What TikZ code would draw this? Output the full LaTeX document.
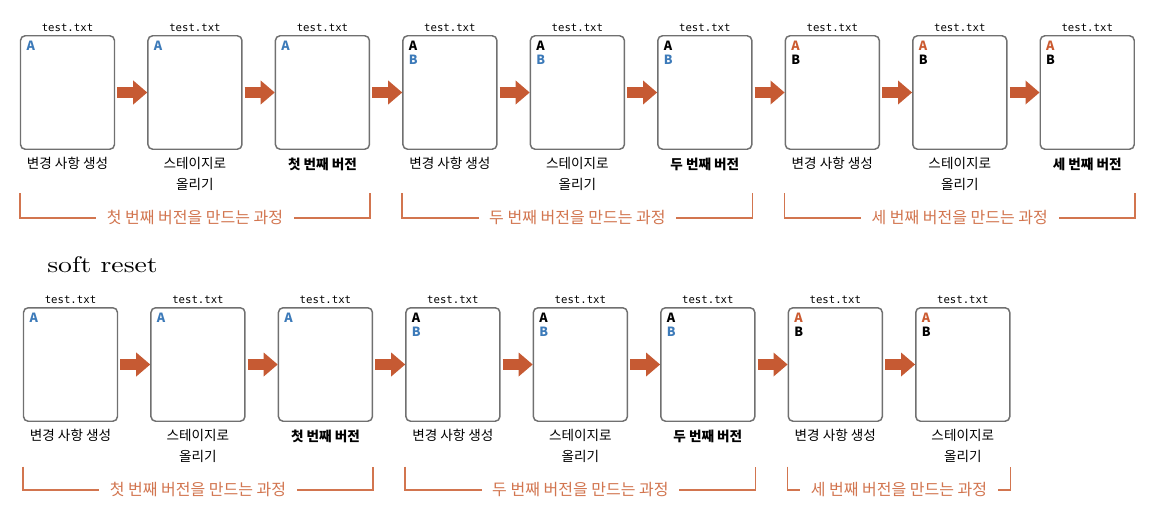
\documentclass[tikz,border=0pt]{standalone}
\usepackage{fontspec}
\usepackage{graphicx}
\newfontfamily\kr{Noto Sans CJK KR}
\newfontfamily\mono{DejaVu Sans Mono}
\usetikzlibrary{positioning, arrows.meta}

\definecolor{boxgray}{HTML}{707070}
\definecolor{flowred}{HTML}{C65A33}
\definecolor{verblue}{HTML}{3C7AB9}
\definecolor{verred}{HTML}{CB5A30}
\definecolor{brkorange}{HTML}{D2754F}

\begin{document}
\begin{tikzpicture}[
  x=0.75pt, y=-0.75pt,
  node distance=24pt,
  filebox/.style={draw=boxgray, line width=1.1pt, rounded corners=3.5pt, fill=white,
                  text width=61.5pt, inner xsep=4.5pt, inner ysep=2pt,
                  text height=9pt, text depth=72.1pt, align=left,
                  font=\kr\bfseries\fontsize{9.5}{10.7}\selectfont,
                  label={[fname]above:test.txt}},
  fname/.style={font=\mono\fontsize{8}{9}\selectfont, inner sep=0pt, label distance=2.5pt},
  boxcap/.style={font=\kr\fontsize{10.2}{15.75}\selectfont, align=center, inner sep=0pt,
                 label distance=5.5pt},
  boxcapb/.style={boxcap, font=\kr\bfseries\fontsize{10.2}{15.75}\selectfont},
  flow/.style={-{Triangle[length=10.5pt, width=18pt, line width=0pt]}, line width=8.25pt,
               draw=flowred, shorten <=1.5pt},
  brk/.style={draw=brkorange, line width=1.1pt},
  grp/.style={font=\kr\fontsize{12}{14}\selectfont, text=brkorange, fill=white,
              inner xsep=8pt, inner ysep=1pt},
]
\useasboundingbox (0,0) rectangle (1156,517);

% === First row ===
\node[filebox, label={[boxcap]below:변경 사항 생성}] (a1) at (67.5,92.5) {\textcolor{verblue}{A}};
\node[filebox, right=of a1, label={[boxcap]below:{스테이지로\\올리기}}] (a2) {\textcolor{verblue}{A}};
\node[filebox, right=of a2, label={[boxcapb]below:첫 번째 버전}] (a3) {\textcolor{verblue}{A}};
\node[filebox, right=of a3, label={[boxcap]below:변경 사항 생성}] (a4) {A\\\textcolor{verblue}{B}};
\node[filebox, right=of a4, label={[boxcap]below:{스테이지로\\올리기}}] (a5) {A\\\textcolor{verblue}{B}};
\node[filebox, right=of a5, label={[boxcapb]below:두 번째 버전}] (a6) {A\\\textcolor{verblue}{B}};
\node[filebox, right=of a6, label={[boxcap]below:변경 사항 생성}] (a7) {\textcolor{verred}{A}\\B};
\node[filebox, right=of a7, label={[boxcap]below:{스테이지로\\올리기}}] (a8) {\textcolor{verred}{A}\\B};
\node[filebox, right=of a8, label={[boxcapb]below:세 번째 버전}] (a9) {\textcolor{verred}{A}\\B};

% === Second row ===
\node[anchor=base west, inner sep=0pt] (title) at (47,272)
  {\fontsize{10}{12}\selectfont\scalebox{2.08}[1.7]{soft reset}};

\node[filebox, label={[boxcap]below:변경 사항 생성}] (b1) at (70.5,364.5) {\textcolor{verblue}{A}};
\node[filebox, right=of b1, label={[boxcap]below:{스테이지로\\올리기}}] (b2) {\textcolor{verblue}{A}};
\node[filebox, right=of b2, label={[boxcapb]below:첫 번째 버전}] (b3) {\textcolor{verblue}{A}};
\node[filebox, right=of b3, label={[boxcap]below:변경 사항 생성}] (b4) {A\\\textcolor{verblue}{B}};
\node[filebox, right=of b4, label={[boxcap]below:{스테이지로\\올리기}}] (b5) {A\\\textcolor{verblue}{B}};
\node[filebox, right=of b5, label={[boxcapb]below:두 번째 버전}] (b6) {A\\\textcolor{verblue}{B}};
\node[filebox, right=of b6, label={[boxcap]below:변경 사항 생성}] (b7) {\textcolor{verred}{A}\\B};
\node[filebox, right=of b7, label={[boxcap]below:{스테이지로\\올리기}}] (b8) {\textcolor{verred}{A}\\B};

% === Arrows ===
\draw[flow] (a1) -- (a2);
\draw[flow] (a2) -- (a3);
\draw[flow] (a3) -- (a4);
\draw[flow] (a4) -- (a5);
\draw[flow] (a5) -- (a6);
\draw[flow] (a6) -- (a7);
\draw[flow] (a7) -- (a8);
\draw[flow] (a8) -- (a9);

\draw[flow] (b1) -- (b2);
\draw[flow] (b2) -- (b3);
\draw[flow] (b3) -- (b4);
\draw[flow] (b4) -- (b5);
\draw[flow] (b5) -- (b6);
\draw[flow] (b6) -- (b7);
\draw[flow] (b7) -- (b8);

% === Brackets ===
\draw[brk] ([yshift=-32.5pt]a1.south west) |- node[pos=0.75, grp] (g1) {첫 번째 버전을 만드는 과정}
  ([yshift=-51pt]a3.south east) -- ([yshift=-32.5pt]a3.south east);
\draw[brk] ([yshift=-32.5pt]a4.south west) |- node[pos=0.75, grp] (g2) {두 번째 버전을 만드는 과정}
  ([yshift=-51pt]a6.south east) -- ([yshift=-32.5pt]a6.south east);
\draw[brk] ([yshift=-32.5pt]a7.south west) |- node[pos=0.75, grp] (g3) {세 번째 버전을 만드는 과정}
  ([yshift=-51pt]a9.south east) -- ([yshift=-32.5pt]a9.south east);

\draw[brk] ([yshift=-33.5pt]b1.south west) |- node[pos=0.75, grp] (h1) {첫 번째 버전을 만드는 과정}
  ([yshift=-51pt]b3.south east) -- ([yshift=-33.5pt]b3.south east);
\draw[brk] ([yshift=-33.5pt]b4.south west) |- node[pos=0.75, grp] (h2) {두 번째 버전을 만드는 과정}
  ([yshift=-51pt]b6.south east) -- ([yshift=-33.5pt]b6.south east);
\draw[brk] ([yshift=-33.5pt]b7.south west) |- node[pos=0.75, grp] (h3) {세 번째 버전을 만드는 과정}
  ([yshift=-51pt]b8.south east) -- ([yshift=-33.5pt]b8.south east);

\end{tikzpicture}
\end{document}
